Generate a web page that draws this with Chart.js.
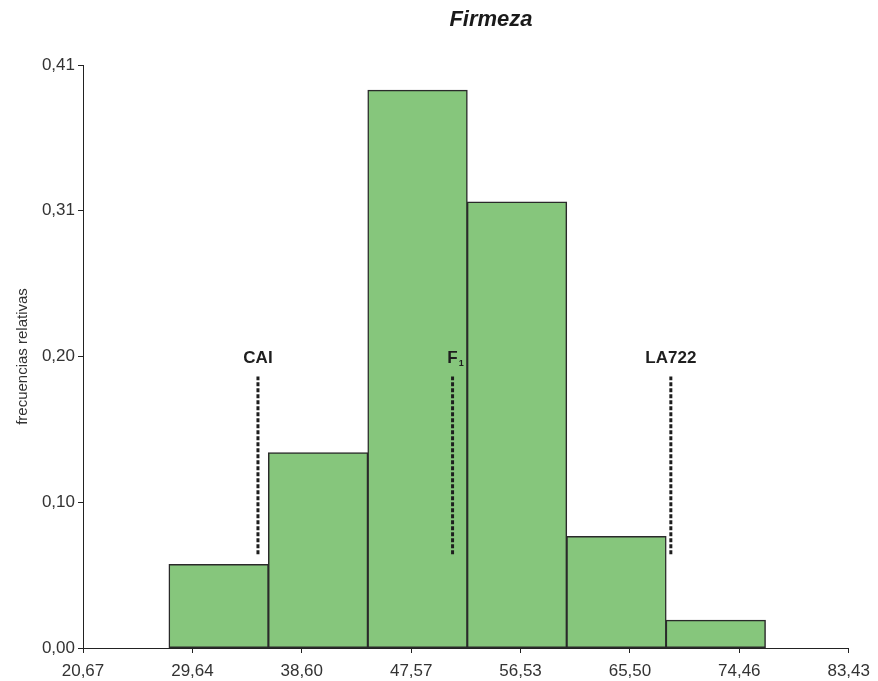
<!DOCTYPE html>
<html>
<head>
<meta charset="utf-8">
<script src="https://cdn.jsdelivr.net/npm/chart.js@4/dist/chart.umd.min.js"></script>
<style>
  html, body { margin: 0; padding: 0; background: #ffffff; }
  #wrap { width: 878px; height: 681px; position: relative; }
</style>
</head>
<body>
<div id="wrap"><canvas id="c" width="878" height="681"></canvas></div>
<script>
// Histogram of firmness (relative frequencies)
const binCenters = [31.79, 39.94, 48.09, 56.24, 64.39, 72.53];
const relFreq = [0.0588, 0.1373, 0.3922, 0.3137, 0.0784, 0.0196];

// Axis ticks
const xTickValues = [20.67, 29.64, 38.60, 47.57, 56.53, 65.50, 74.46, 83.43];
const xTickLabels = ['20,67', '29,64', '38,60', '47,57', '56,53', '65,50', '74,46', '83,43'];
const yTickValues = [0, 0.1025, 0.205, 0.3075, 0.41];
const yTickLabels = ['0,00', '0,10', '0,20', '0,31', '0,41'];

// Reference genotypes (mean firmness) shown as dashed markers
const markerNames = ['CAI', 'F', 'LA722'];
const markerSubscripts = ['', '1', ''];
const markerX = [35.01, 50.96, 68.85];
const markerBottom = [0.066, 0.066, 0.066];
const markerTop = [0.191, 0.191, 0.191];

const markerDatasets = markerX.map((x, i) => ({
  type: 'line',
  label: markerNames[i] + markerSubscripts[i],
  data: [{ x: x, y: markerBottom[i] }, { x: x, y: markerTop[i] }],
  borderColor: '#1e1e1e',
  borderWidth: 3,
  borderDash: [4, 2],
  pointRadius: 0,
  fill: false,
  order: 0
}));

const labelPlugin = {
  id: 'markerLabels',
  afterDatasetsDraw(chart) {
    const { ctx, scales } = chart;
    ctx.save();
    ctx.fillStyle = '#1e1e1e';
    ctx.textBaseline = 'middle';
    markerX.forEach((x, i) => {
      const px = scales.x.getPixelForValue(x);
      const py = scales.y.getPixelForValue(markerTop[i]) - 18;
      ctx.font = 'bold 17px "Liberation Sans", Arial, sans-serif';
      const sub = markerSubscripts[i];
      if (sub) {
        const w = ctx.measureText(markerNames[i]).width;
        ctx.textAlign = 'left';
        ctx.fillText(markerNames[i], px - w / 2, py);
        ctx.font = 'bold 9px "Liberation Sans", Arial, sans-serif';
        ctx.fillText(sub, px + w / 2 + 1, py + 5);
      } else {
        ctx.textAlign = 'center';
        ctx.fillText(markerNames[i], px, py);
      }
    });
    ctx.restore();
  }
};

const titlePlugin = {
  id: 'plotTitle',
  afterDraw(chart) {
    const { ctx } = chart;
    ctx.save();
    ctx.fillStyle = '#1a1a1a';
    ctx.font = 'italic bold 22px "Liberation Sans", Arial, sans-serif';
    ctx.textAlign = 'center';
    ctx.textBaseline = 'middle';
    ctx.fillText('Firmeza', 491, 20);
    ctx.restore();
  }
};

new Chart(document.getElementById('c'), {
  type: 'bar',
  data: {
    datasets: [
      {
        type: 'bar',
        label: 'frecuencias relativas',
        data: binCenters.map((x, i) => ({ x: x, y: relFreq[i] })),
        backgroundColor: '#86c67c',
        borderColor: '#2a2a2a',
        borderWidth: 1.5,
        borderSkipped: false,
        inflateAmount: 0.5,
        barPercentage: 1,
        categoryPercentage: 1,
        order: 1
      },
      ...markerDatasets
    ]
  },
  options: {
    responsive: false,
    animation: false,
    layout: { padding: { top: 65, right: 29, bottom: 0, left: 0 } },
    plugins: {
      legend: { display: false },
      tooltip: { enabled: false },
      title: { display: false }
    },
    scales: {
      x: {
        type: 'linear',
        min: 20.67,
        max: 83.43,
        offset: false,
        afterBuildTicks(scale) { scale.ticks = xTickValues.map(v => ({ value: v })); },
        afterFit(scale) { scale.height = 33; },
        ticks: {
          autoSkip: false,
          maxRotation: 0,
          padding: 8,
          color: '#333333',
          font: { family: '"Liberation Sans", Arial, sans-serif', size: 17 },
          callback(value, index) { return xTickLabels[index]; }
        },
        grid: {
          offset: false,
          drawOnChartArea: false,
          drawTicks: true,
          tickLength: 5,
          color: '#222222',
          lineWidth: 1
        },
        border: { display: true, color: '#222222', width: 1 }
      },
      y: {
        type: 'linear',
        min: 0,
        max: 0.41,
        afterBuildTicks(scale) { scale.ticks = yTickValues.map(v => ({ value: v })); },
        afterFit(scale) { scale.width = 83; },
        ticks: {
          autoSkip: false,
          padding: 3,
          color: '#333333',
          font: { family: '"Liberation Sans", Arial, sans-serif', size: 17 },
          callback(value, index) { return yTickLabels[index]; }
        },
        grid: {
          drawOnChartArea: false,
          drawTicks: true,
          tickLength: 5,
          color: '#222222',
          lineWidth: 1
        },
        border: { display: true, color: '#222222', width: 1 },
        title: {
          display: true,
          text: 'frecuencias relativas',
          color: '#333333',
          padding: { top: 14, bottom: 0 },
          font: { family: '"Liberation Sans", Arial, sans-serif', size: 15 }
        }
      }
    }
  },
  plugins: [labelPlugin, titlePlugin]
});
</script>
</body>
</html>
